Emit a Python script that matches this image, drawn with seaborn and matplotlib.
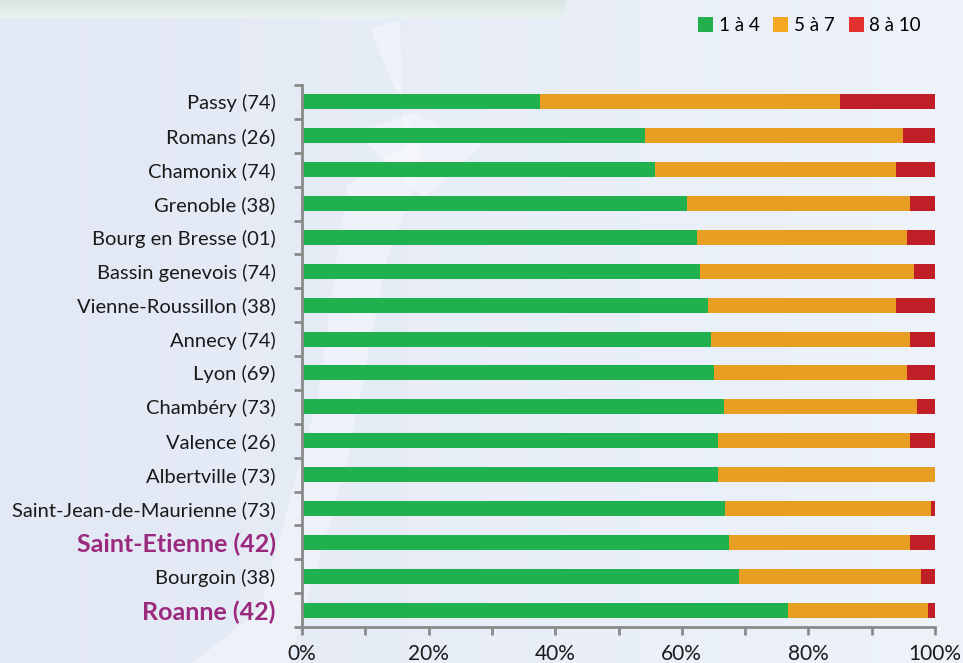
import matplotlib.pyplot as plt
import seaborn as sns
import pandas as pd
import numpy as np
from matplotlib.patches import Patch, Polygon
from matplotlib.colors import LinearSegmentedColormap

# Données (% par classe)
villes = ['Passy (74)', 'Romans (26)', 'Chamonix (74)', 'Grenoble (38)',
          'Bourg en Bresse (01)', 'Bassin genevois (74)', 'Vienne-Roussillon (38)',
          'Annecy (74)', 'Lyon (69)', 'Chambéry (73)', 'Valence (26)',
          'Albertville (73)', 'Saint-Jean-de-Maurienne (73)', 'Saint-Etienne (42)',
          'Bourgoin (38)', 'Roanne (42)']
classe_1_4 = [37.6, 54.2, 55.8, 60.8, 62.4, 62.9, 64.1, 64.6, 65.1, 66.7, 65.7,
              65.7, 66.8, 67.5, 69.0, 76.8]
classe_5_7 = [47.4, 40.8, 38.0, 35.2, 33.2, 33.8, 29.7, 31.4, 30.5, 30.5, 30.3,
              34.3, 32.6, 28.5, 28.8, 22.1]
classe_8_10 = [15.0, 5.0, 6.2, 4.0, 4.4, 3.3, 6.2, 4.0, 4.4, 2.8, 4.0,
               0.0, 0.6, 4.0, 2.2, 1.1]
legende = ['1 à 4', '5 à 7', '8 à 10']
villes_mises_en_avant = ['Saint-Etienne (42)', 'Roanne (42)']

df = pd.DataFrame({'ville': villes, 'a': classe_1_4, 'b': classe_5_7, 'c': classe_8_10})
df['cum_b'] = df['a'] + df['b']
df['cum_c'] = df['cum_b'] + df['c']

vert, orange, rouge = '#21b04f', '#e89e22', '#c11f27'

fig = plt.figure(figsize=(9.63, 6.63), dpi=100)

# fond en dégradé
bg = fig.add_axes([0, 0, 1, 1], zorder=-10)
grad = np.linspace(0, 1, 256).reshape(1, -1)
cmap_bg = LinearSegmentedColormap.from_list('bg', ['#e2e8f4', '#eef3fa'])
bg.imshow(grad, aspect='auto', cmap=cmap_bg, extent=[0, 1, 0, 1])
# bandeau en haut à gauche
cmap_top = LinearSegmentedColormap.from_list('top', ['#dbe6e4', '#e8f3f2'])
bg.imshow(np.linspace(0, 1, 64).reshape(-1, 1), aspect='auto', cmap=cmap_top,
          extent=[0, 565 / 963, 1 - 18 / 663, 1])
# filigrane discret
for pts in [[(0.385, 0.955), (0.415, 0.97), (0.42, 0.78), (0.36, 0.72), (0.33, 0.40),
             (0.27, 0.08), (0.20, 0.0), (0.30, 0.0), (0.36, 0.30), (0.40, 0.60), (0.44, 0.76)],
            [(0.37, 0.80), (0.43, 0.83), (0.50, 0.78), (0.44, 0.70)]]:
    bg.add_patch(Polygon(pts, closed=True, facecolor='white', alpha=0.35,
                         edgecolor='none', transform=bg.transAxes))
bg.set_xlim(0, 1)
bg.set_ylim(0, 1)
bg.axis('off')

ax = fig.add_axes([302 / 963, 1 - 627 / 663, 633 / 963, 542 / 663])
ax.set_facecolor('none')

sns.barplot(data=df, x='cum_c', y='ville', color=rouge, width=0.44, orient='h',
            saturation=1, ax=ax)
sns.barplot(data=df, x='cum_b', y='ville', color=orange, width=0.44, orient='h',
            saturation=1, ax=ax)
sns.barplot(data=df, x='a', y='ville', color=vert, width=0.44, orient='h',
            saturation=1, ax=ax)

ax.set_xlim(0, 100)
ax.set_ylim(len(villes) - 0.5, -0.5)
ax.set_xlabel('')
ax.set_ylabel('')

gris = '#8a8a8a'
for s in ['top', 'right']:
    ax.spines[s].set_visible(False)
for s in ['left', 'bottom']:
    ax.spines[s].set_color(gris)
    ax.spines[s].set_linewidth(2)

ax.set_xticks(np.arange(0, 101, 10))
ax.set_xticklabels([f'{v}%' if v % 20 == 0 else '' for v in range(0, 101, 10)],
                   fontsize=15, family='Lato', color='#1a1a1a')
ax.tick_params(axis='x', length=6, width=2, color=gris, pad=6)

ax.set_yticks(np.arange(len(villes)))
ax.set_yticks(np.arange(-0.5, len(villes)), minor=True)
ax.tick_params(axis='y', which='major', length=0, pad=19)
ax.tick_params(axis='y', which='minor', length=6, width=2, color=gris)
ax.set_yticklabels(villes)
for lbl in ax.get_yticklabels():
    lbl.set_family('Lato')
    if lbl.get_text() in villes_mises_en_avant:
        lbl.set_color('#9b2a7f')
        lbl.set_fontsize(18)
        lbl.set_fontweight('bold')
    else:
        lbl.set_color('#1a1a1a')
        lbl.set_fontsize(14.5)

handles = [Patch(facecolor=c, edgecolor='none') for c in ['#21b04b', '#f5a623', '#e53030']]
fig.legend(handles, legende, loc='upper right', bbox_to_anchor=(0.974, 1.0), ncol=3,
           frameon=False, prop={'family': 'Lato', 'size': 13.5}, handlelength=0.8,
           handleheight=0.8, handletextpad=0.3, columnspacing=0.75)

plt.savefig('out.png', dpi=100)
